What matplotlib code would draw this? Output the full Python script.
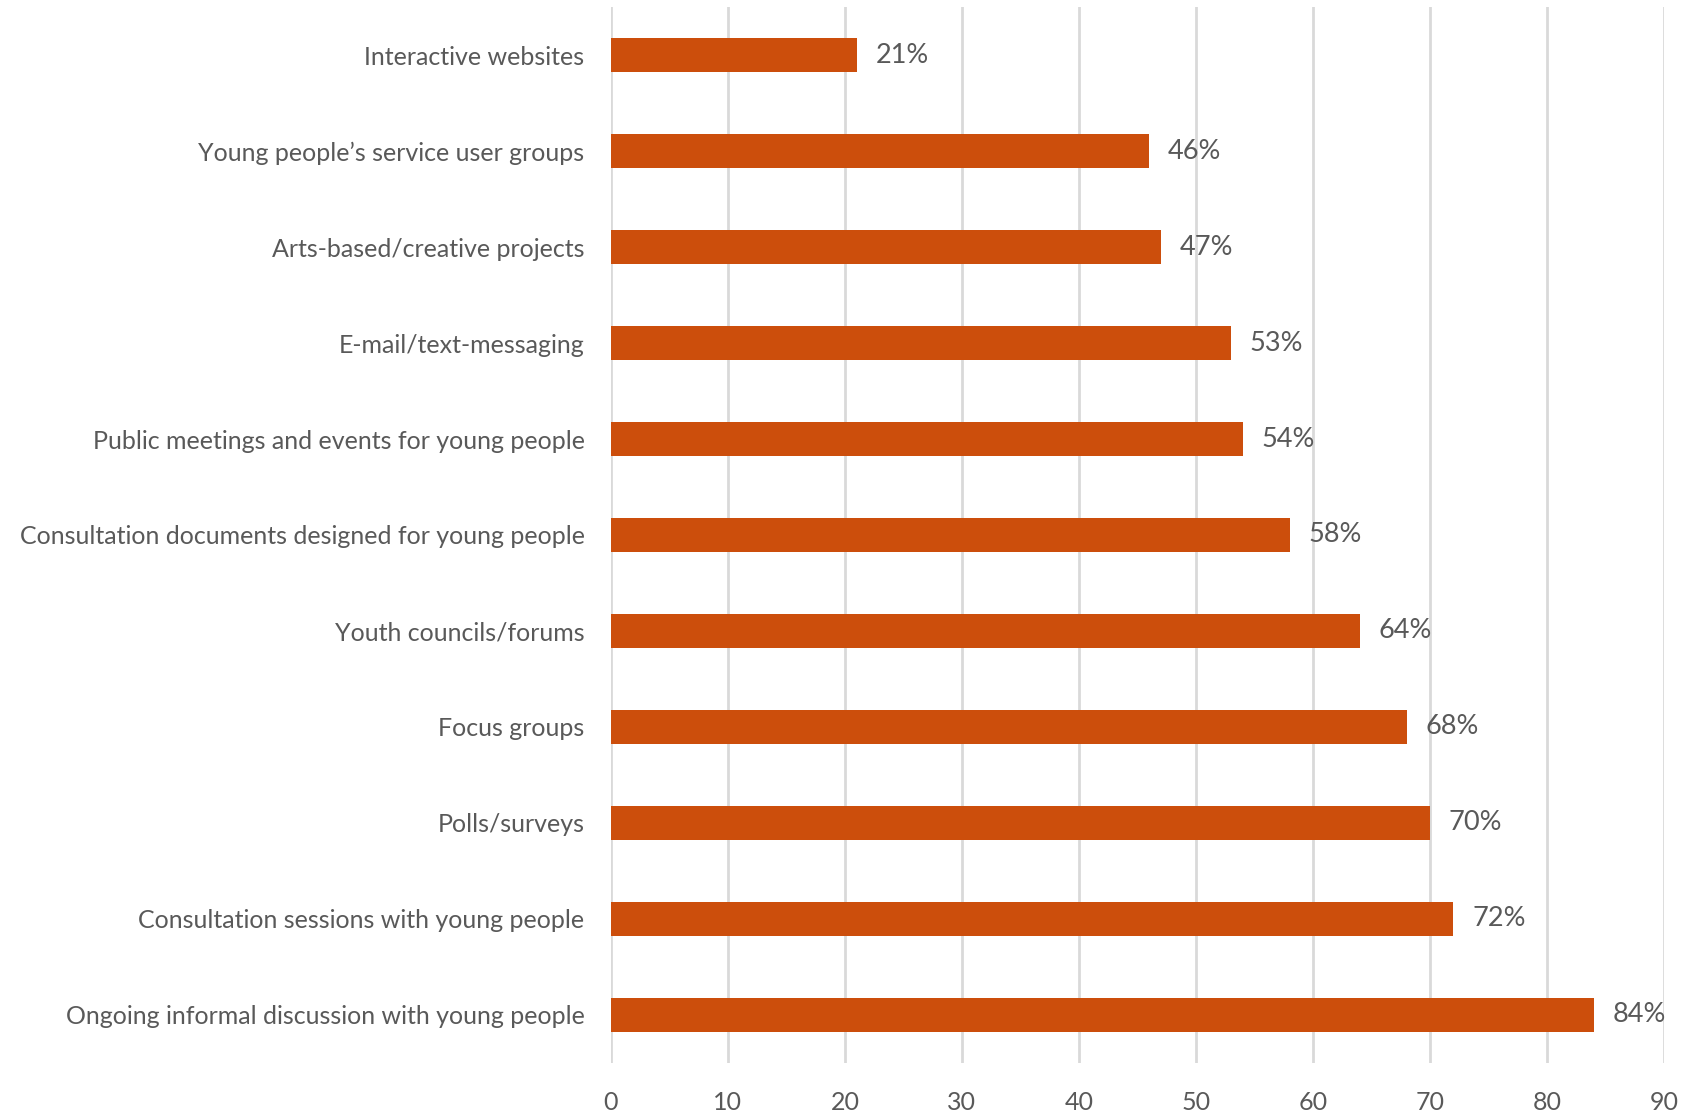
import matplotlib.pyplot as plt

categories = [
    'Interactive websites',
    'Young people\u2019s service user groups',
    'Arts-based/creative projects',
    'E-mail/text-messaging',
    'Public meetings and events for young people',
    'Consultation documents designed for young people',
    'Youth councils/forums',
    'Focus groups',
    'Polls/surveys',
    'Consultation sessions with young people',
    'Ongoing informal discussion with young people',
]
values = [21, 46, 47, 53, 54, 58, 64, 68, 70, 72, 84]

plt.rcParams['font.family'] = ['Lato', 'DejaVu Sans']
text_col = '#595959'
bar_col = '#CC4E0C'

fig = plt.figure(figsize=(16.9, 11.14), dpi=100)
ax = fig.add_axes([0.3615, 0.0458, 0.6231, 0.9479])

pos = list(range(len(categories)))
ax.barh(pos, values, height=0.35, color=bar_col, zorder=3)

for p, v in zip(pos, values):
    ax.annotate(f'{v}%', (v, p), xytext=(13.5, 0), textcoords='offset points',
                va='center', ha='left', fontsize=19.5, color=text_col)

ax.set_xlim(0, 90)
ax.set_ylim(len(categories) - 0.5, -0.5)
ax.set_xticks(range(0, 91, 10))
ax.set_yticks(pos)
ax.set_yticklabels(categories)
ax.tick_params(axis='both', length=0, colors=text_col)
ax.tick_params(axis='y', pad=19, labelsize=18)
ax.tick_params(axis='x', pad=20, labelsize=18)
ax.grid(axis='x', color='#d9d9d9', linewidth=2, zorder=0)
for s in ax.spines.values():
    s.set_visible(False)

fig.savefig('out.png', dpi=100)
